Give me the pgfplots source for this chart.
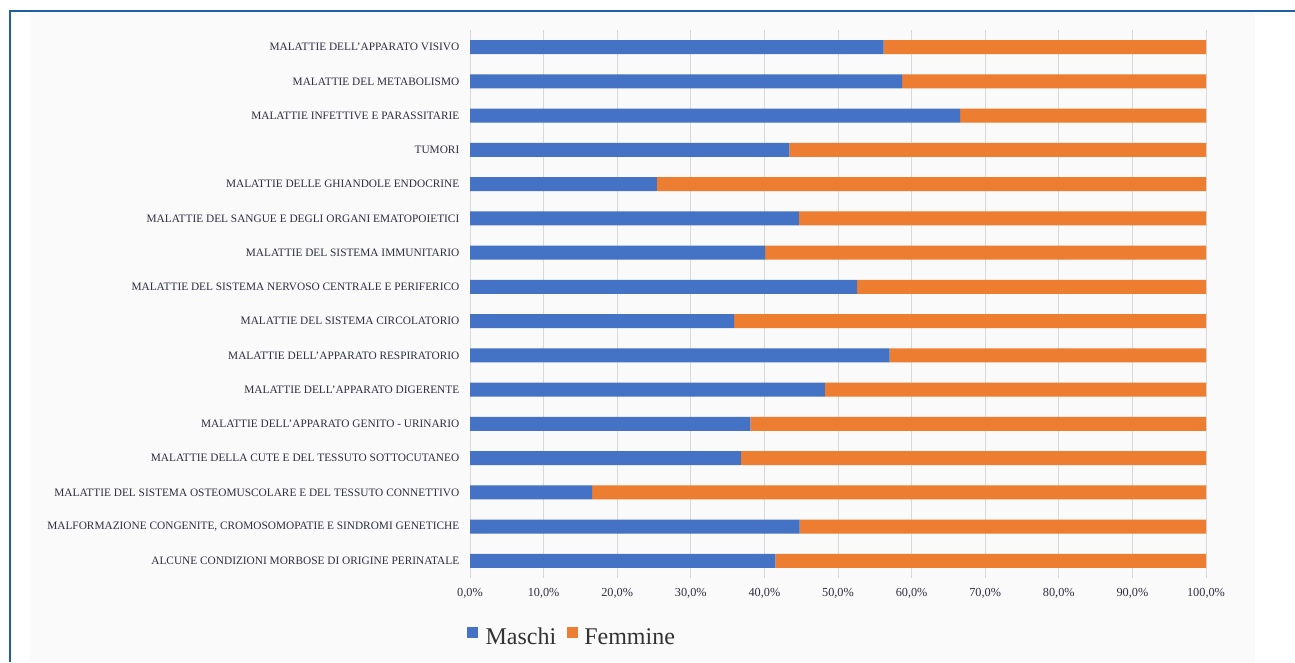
\documentclass[border=0pt]{standalone}
\usepackage{fontspec}
\setmainfont{Liberation Serif}
\usepackage{pgfplots}
\pgfplotsset{compat=1.18}
\definecolor{mblue}{HTML}{4472C4}
\definecolor{morange}{HTML}{ED7D31}
\definecolor{frameblue}{HTML}{1F5FA6}
\definecolor{lbl}{HTML}{2E2E40}
\definecolor{bgg}{HTML}{FAFAFA}

\pgfplotstableread{
idx maschi femmine
0  41.5 58.5
1  44.8 55.2
2  16.6 83.4
3  36.8 63.2
4  38.1 61.9
5  48.2 51.8
6  57.0 43.0
7  35.9 64.1
8  52.6 47.4
9  40.1 59.9
10 44.7 55.3
11 25.4 74.6
12 43.4 56.6
13 66.6 33.4
14 58.7 41.3
15 56.2 43.8
}\datatable

\begin{document}
\begin{tikzpicture}
\useasboundingbox (0,0) rectangle (971.25pt,496.5pt);
\fill[white] (0,0) rectangle (971.25pt,496.5pt);
\fill[bgg] (22.5pt,0) rectangle (941.25pt,487.5pt);
\draw[frameblue, line width=2pt] (7.5pt,0) -- (7.5pt,488.25pt) -- (971.25pt,488.25pt);
\begin{axis}[
  at={(352.5pt,63pt)}, anchor=south west,
  scale only axis, width=552pt, height=411pt,
  xbar stacked, bar width=0.41,
  xmin=0, xmax=100, ymin=-0.5, ymax=15.5,
  axis line style={draw=none},
  xtick={0,10,...,100},
  xticklabels={{0,0\%},{10,0\%},{20,0\%},{30,0\%},{40,0\%},{50,0\%},{60,0\%},{70,0\%},{80,0\%},{90,0\%},{100,0\%}},
  xmajorgrids, grid style={draw=black!15, line width=0.6pt},
  ytick={0,...,15},
  yticklabels={
    ALCUNE CONDIZIONI MORBOSE DI ORIGINE PERINATALE,
    {MALFORMAZIONE CONGENITE, CROMOSOMOPATIE E SINDROMI GENETICHE},
    MALATTIE DEL SISTEMA OSTEOMUSCOLARE E DEL TESSUTO CONNETTIVO,
    MALATTIE DELLA CUTE E DEL TESSUTO SOTTOCUTANEO,
    MALATTIE DELL'APPARATO GENITO - URINARIO,
    MALATTIE DELL'APPARATO DIGERENTE,
    MALATTIE DELL'APPARATO RESPIRATORIO,
    MALATTIE DEL SISTEMA CIRCOLATORIO,
    MALATTIE DEL SISTEMA NERVOSO CENTRALE E PERIFERICO,
    MALATTIE DEL SISTEMA IMMUNITARIO,
    MALATTIE DEL SANGUE E DEGLI ORGANI EMATOPOIETICI,
    MALATTIE DELLE GHIANDOLE ENDOCRINE,
    TUMORI,
    MALATTIE INFETTIVE E PARASSITARIE,
    MALATTIE DEL METABOLISMO,
    MALATTIE DELL'APPARATO VISIVO},
  major tick length=0pt,
  yticklabel style={font=\fontsize{8.5}{9}\selectfont, text=lbl, xshift=-4.5pt},
  xticklabel style={font=\fontsize{9.2}{10}\selectfont, text=lbl, yshift=-4pt},
  legend style={at={(0.139,-0.108)}, anchor=center, legend columns=2, draw=none, fill=none,
    font=\fontsize{18}{19}\selectfont, text=black!80,
    /tikz/every even column/.append style={column sep=6pt}},
  legend image code/.code={\fill[#1] (0pt,-0.5pt) rectangle (8pt,7.5pt);},
]
\addplot[fill=mblue, draw=none] table[x=maschi, y=idx] {\datatable};
\addplot[fill=morange, draw=none] table[x=femmine, y=idx] {\datatable};
\legend{\hspace{4pt}Maschi, \hspace{3pt}Femmine}
\end{axis}
\end{tikzpicture}
\end{document}
